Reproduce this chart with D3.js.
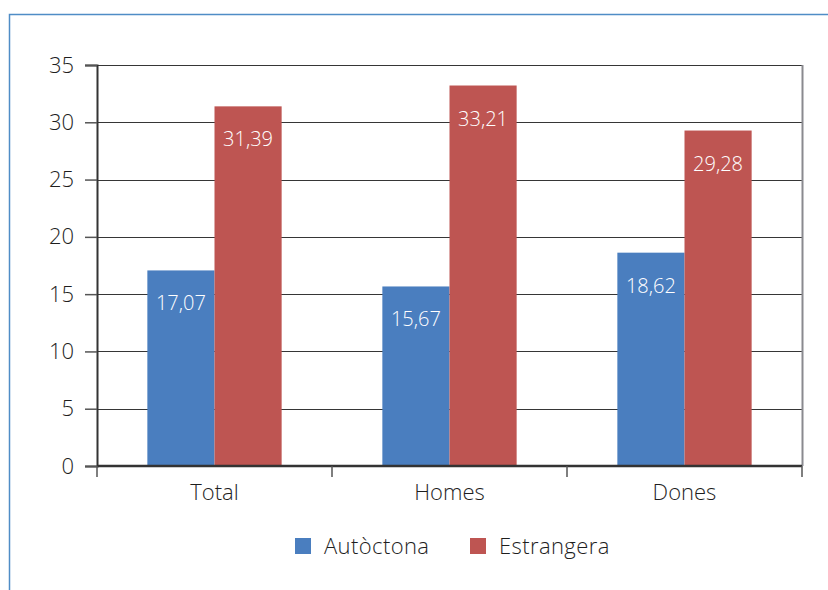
<!DOCTYPE html>
<html>
<head>
<meta charset="utf-8">
<script src="https://cdn.jsdelivr.net/npm/d3@7"></script>
<style>
  html, body { margin: 0; padding: 0; background: #fff; }
  svg { display: block; }
  text { font-family: "Open Sans", "Noto Sans", sans-serif; font-weight: 300; }
</style>
</head>
<body>
<svg id="chart" width="828" height="590"></svg>
<script>
// Taxa per grup de població i sexe
const categories = ["Total", "Homes", "Dones"];
const seriesNames = ["Autòctona", "Estrangera"];
const autoctona = [17.07, 15.67, 18.62];
const estrangera = [31.39, 33.21, 29.28];
const yTicks = [0, 5, 10, 15, 20, 25, 30, 35];
const colors = ["#4A7EBF", "#BE5552"];

const svg = d3.select("#chart");
const margin = { left: 97, right: 26, top: 65, bottom: 124 };
const W = 828, H = 590;
const innerW = W - margin.left - margin.right;
const innerH = H - margin.top - margin.bottom;
const textColor = "#1e1e1e";
const labelSize = 22;

// outer frame (left and top edges visible)
svg.append("path")
  .attr("d", `M9.5,590 L9.5,14.5 L828,14.5`)
  .attr("fill", "none")
  .attr("stroke", "#4F8DC6")
  .attr("stroke-width", 1.5);

const g = svg.append("g").attr("transform", `translate(${margin.left},${margin.top})`);

const x0 = d3.scaleBand().domain(categories).range([0, innerW]).paddingInner(0).paddingOuter(0);
const x1 = d3.scaleBand().domain(seriesNames).range([0, x0.bandwidth()]).paddingInner(0).paddingOuter(0.75);
const y = d3.scaleLinear().domain([0, 35]).range([innerH, 0]);

// horizontal gridlines
g.append("g")
  .selectAll("line")
  .data(yTicks.filter(d => d > 0))
  .join("line")
  .attr("x1", 0).attr("x2", innerW)
  .attr("y1", d => Math.round(y(d)) + 0.5).attr("y2", d => Math.round(y(d)) + 0.5)
  .attr("stroke", "#363636").attr("stroke-width", 1.2);

// right plot border
g.append("line")
  .attr("x1", innerW + 0.5).attr("x2", innerW + 0.5)
  .attr("y1", 0).attr("y2", innerH)
  .attr("stroke", "#8a8a8f").attr("stroke-width", 2);

// bars
const rows = categories.map((c, i) => ({ cat: c, vals: [autoctona[i], estrangera[i]] }));
const grp = g.selectAll(".grp").data(rows).join("g")
  .attr("transform", d => `translate(${x0(d.cat)},0)`);

grp.selectAll("rect")
  .data(d => d.vals.map((v, k) => ({ v, k })))
  .join("rect")
  .attr("x", d => x1(seriesNames[d.k]))
  .attr("width", x1.bandwidth())
  .attr("y", d => y(d.v))
  .attr("height", d => innerH - y(d.v))
  .attr("fill", d => colors[d.k]);

grp.selectAll("text.val")
  .data(d => d.vals.map((v, k) => ({ v, k })))
  .join("text")
  .attr("class", "val")
  .attr("x", d => x1(seriesNames[d.k]) + x1.bandwidth() / 2)
  .attr("y", d => y(d.v) + 40)
  .attr("text-anchor", "middle")
  .attr("fill", "#fff")
  .attr("font-size", 20)
  .text(d => d3.format(".2f")(d.v).replace(".", ","));

// y axis
const yAxis = d3.axisLeft(y).tickValues(yTicks).tickSize(12).tickPadding(11);
const ya = g.append("g").call(yAxis);
ya.select(".domain").attr("stroke", "#333").attr("stroke-width", 2);
ya.selectAll(".tick line").attr("stroke", "#555").attr("stroke-width", 1.5);
ya.selectAll(".tick text").attr("font-size", labelSize).attr("fill", textColor)
  .attr("font-family", "\"Open Sans\", \"Noto Sans\", sans-serif")
  .attr("font-weight", 300);

// x axis with ticks at category boundaries
const xa = g.append("g").attr("transform", `translate(0,${innerH})`);
xa.append("line").attr("x1", 0).attr("x2", innerW).attr("y1", 0).attr("y2", 0)
  .attr("stroke", "#333").attr("stroke-width", 2.5);
const bounds = categories.map(c => x0(c)).concat([innerW]);
xa.selectAll("line.tk").data(bounds).join("line").attr("class", "tk")
  .attr("x1", d => d).attr("x2", d => d).attr("y1", 0).attr("y2", 11)
  .attr("stroke", "#555").attr("stroke-width", 1.5);
xa.selectAll("text").data(categories).join("text")
  .attr("x", d => x0(d) + x0.bandwidth() / 2)
  .attr("y", 34)
  .attr("text-anchor", "middle")
  .attr("font-size", labelSize).attr("fill", textColor)
  .text(d => d);

// legend
const legend = svg.append("g");
const legendItems = [{ name: seriesNames[0], x: 295 }, { name: seriesNames[1], x: 470 }];
legendItems.forEach((it, i) => {
  legend.append("rect").attr("x", it.x).attr("y", 538).attr("width", 16).attr("height", 16).attr("fill", colors[i]);
  legend.append("text").attr("x", it.x + 29).attr("y", 554).attr("font-size", labelSize)
    .attr("letter-spacing", 0.4).attr("fill", textColor).text(it.name);
});
</script>
</body>
</html>
